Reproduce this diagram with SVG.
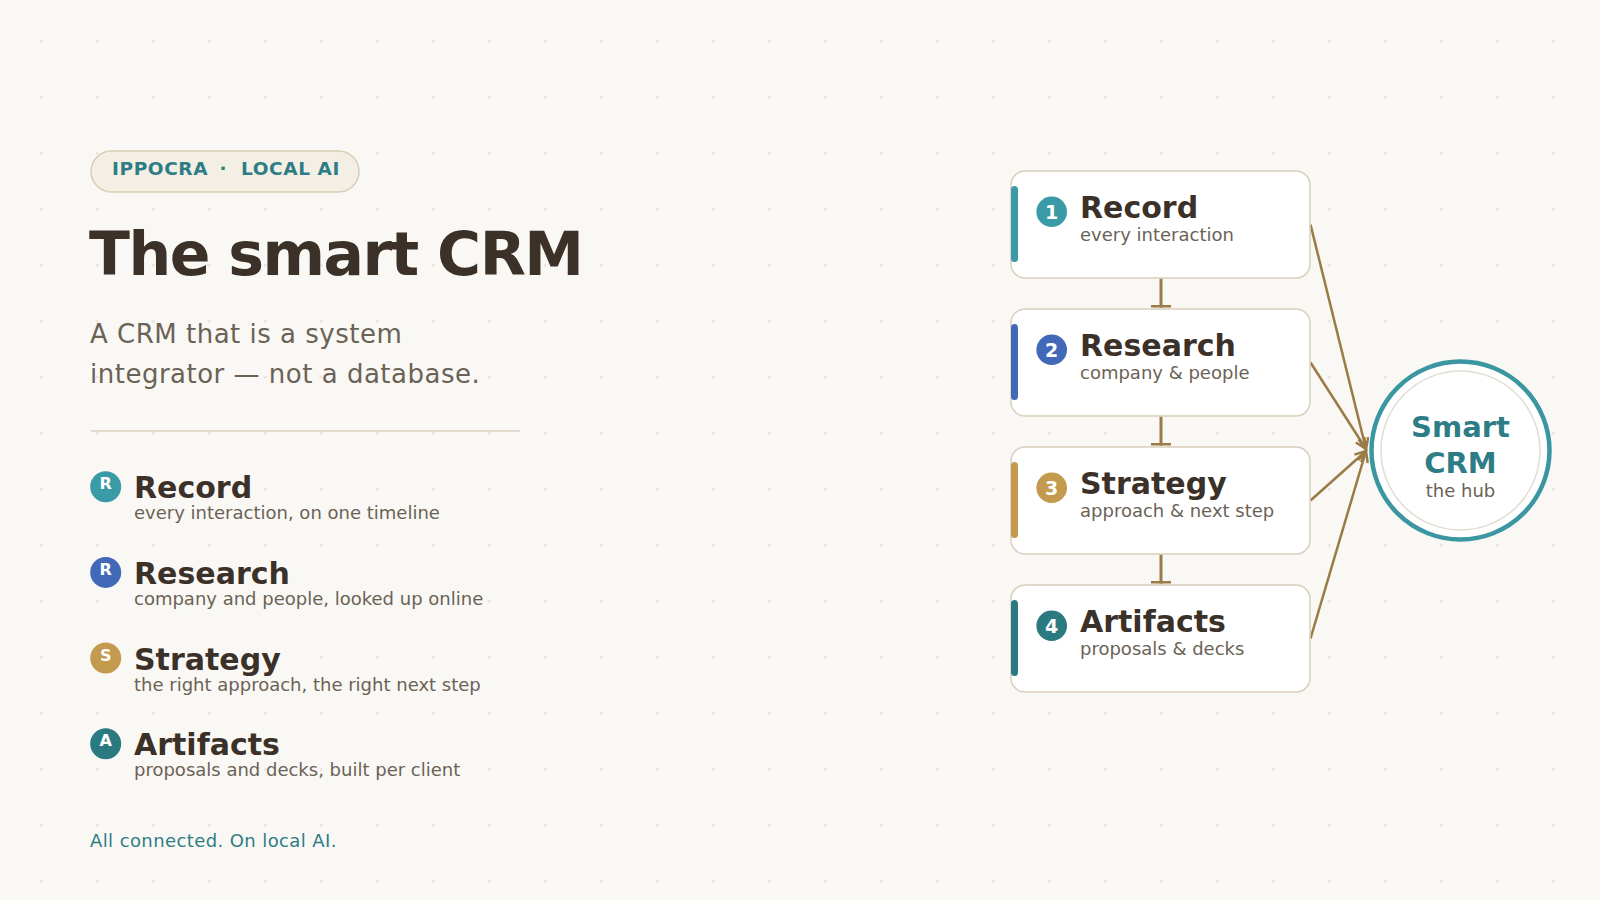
<svg xmlns="http://www.w3.org/2000/svg" width="1600" height="900" viewBox="0 0 1600 900">
  <defs>
    <pattern id="dots" x="13.3" y="13.3" width="56" height="56" patternUnits="userSpaceOnUse">
      <circle cx="28" cy="28" r="1.3" fill="#e4e0d8"/>
    </pattern>
    <marker id="tee" viewBox="0 0 3 20" markerWidth="3" markerHeight="20" refX="3" refY="10" orient="auto" markerUnits="userSpaceOnUse">
      <rect x="0" y="0" width="3" height="20" fill="#9a7a45"/>
    </marker>
    <marker id="arrow" viewBox="0 0 14 12" markerWidth="14" markerHeight="12" refX="12" refY="6" orient="auto" markerUnits="userSpaceOnUse">
      <path d="M1,1 L12,6 L1,11" fill="none" stroke="#9a7a45" stroke-width="2.5" stroke-linejoin="miter"/>
    </marker>
  </defs>
  <style>
    .sans { font-family: "DejaVu Sans", "Liberation Sans", sans-serif; }
    .dark { fill: #3b3128; }
    .muted { fill: #6b6256; }
    .teal { fill: #2e7d86; }
    .h1 { font-size: 60px; font-weight: bold; letter-spacing: -1.5px; }
    .lead { font-size: 26px; letter-spacing: 0.5px; }
    .itemTitle { font-size: 30px; font-weight: bold; }
    .itemSub { font-size: 18px; }
    .badgeLetter { font-size: 16px; font-weight: bold; fill: #ffffff; text-anchor: middle; }
    .numLetter { font-size: 19px; font-weight: bold; fill: #ffffff; text-anchor: middle; }
    .card { fill: #ffffff; stroke: #d9cfbc; stroke-width: 1.5; }
    .flow { stroke: #9a7a45; stroke-width: 3; fill: none; }
    .feed { stroke: #9a7a45; stroke-width: 2.5; fill: none; }
  </style>

  <rect x="0" y="0" width="1600" height="900" fill="#faf8f4"/>
  <rect x="0" y="0" width="1600" height="900" fill="url(#dots)"/>

  <g id="header">
    <rect x="91" y="151" width="268" height="41" rx="20.5" fill="#f3efe4" stroke="#d8cdb5" stroke-width="1.5"/>
    <text class="sans teal" font-size="18.5" font-weight="bold" letter-spacing="0.6" y="175"><tspan x="112">IPPOCRA</tspan><tspan x="219.5">·</tspan><tspan x="241">LOCAL AI</tspan></text>
    <text class="sans dark h1" x="89" y="275">The smart CRM</text>
    <text class="sans muted lead" x="90" y="343">A CRM that is a system</text>
    <text class="sans muted lead" x="90" y="383">integrator — not a database.</text>
    <line x1="91" y1="431" x2="520" y2="431" stroke="#d8d0c0" stroke-width="1.5"/>
  </g>

  <g id="item-record">
    <circle cx="105.7" cy="486.7" r="15.5" fill="#3a9aa5"/>
    <text class="sans badgeLetter" x="105.7" y="489.3">R</text>
    <text class="sans dark itemTitle" x="134" y="498.3">Record</text>
    <text class="sans muted itemSub" x="134" y="519.3">every interaction, on one timeline</text>
  </g>
  <g id="item-research">
    <circle cx="105.7" cy="572.4" r="15.5" fill="#4169b8"/>
    <text class="sans badgeLetter" x="105.7" y="575">R</text>
    <text class="sans dark itemTitle" x="134" y="584">Research</text>
    <text class="sans muted itemSub" x="134" y="605">company and people, looked up online</text>
  </g>
  <g id="item-strategy">
    <circle cx="105.7" cy="658" r="15.5" fill="#c49a4e"/>
    <text class="sans badgeLetter" x="105.7" y="660.6">S</text>
    <text class="sans dark itemTitle" x="134" y="669.6">Strategy</text>
    <text class="sans muted itemSub" x="134" y="690.6">the right approach, the right next step</text>
  </g>
  <g id="item-artifacts">
    <circle cx="105.7" cy="743.7" r="15.5" fill="#2b7a82"/>
    <text class="sans badgeLetter" x="105.7" y="746.3">A</text>
    <text class="sans dark itemTitle" x="134" y="755.3">Artifacts</text>
    <text class="sans muted itemSub" x="134" y="776.3">proposals and decks, built per client</text>
  </g>

  <g id="footer">
    <text class="sans teal" font-size="18" letter-spacing="0.4" x="90" y="847">All connected. On local AI.</text>
  </g>

  <g id="connectors">
    <line class="flow" x1="1161" y1="278.5" x2="1161" y2="307.5" marker-end="url(#tee)"/>
    <line class="flow" x1="1161" y1="416.5" x2="1161" y2="445.5" marker-end="url(#tee)"/>
    <line class="flow" x1="1161" y1="554.5" x2="1161" y2="583.5" marker-end="url(#tee)"/>
    <line class="feed" x1="1310.5" y1="224.5" x2="1366" y2="449" marker-end="url(#arrow)"/>
    <line class="feed" x1="1310.5" y1="362.5" x2="1366" y2="449" marker-end="url(#arrow)"/>
    <line class="feed" x1="1310.5" y1="500.5" x2="1366" y2="451" marker-end="url(#arrow)"/>
    <line class="feed" x1="1310.5" y1="638.5" x2="1366" y2="451" marker-end="url(#arrow)"/>
  </g>

  <g id="step-record">
    <rect class="card" x="1011" y="171" width="299" height="107" rx="14"/>
    <rect x="1011" y="186" width="7" height="76" rx="3.5" fill="#3a9aa5"/>
    <circle cx="1051.7" cy="211.7" r="15.3" fill="#3a9aa5"/>
    <text class="sans numLetter" x="1051.7" y="218.6">1</text>
    <text class="sans dark itemTitle" x="1080" y="218.3">Record</text>
    <text class="sans muted itemSub" x="1080" y="240.7">every interaction</text>
  </g>
  <g id="step-research">
    <rect class="card" x="1011" y="309" width="299" height="107" rx="14"/>
    <rect x="1011" y="324" width="7" height="76" rx="3.5" fill="#4169b8"/>
    <circle cx="1051.7" cy="349.7" r="15.3" fill="#4169b8"/>
    <text class="sans numLetter" x="1051.7" y="356.6">2</text>
    <text class="sans dark itemTitle" x="1080" y="356.3">Research</text>
    <text class="sans muted itemSub" x="1080" y="378.7">company &amp; people</text>
  </g>
  <g id="step-strategy">
    <rect class="card" x="1011" y="447" width="299" height="107" rx="14"/>
    <rect x="1011" y="462" width="7" height="76" rx="3.5" fill="#c49a4e"/>
    <circle cx="1051.7" cy="487.7" r="15.3" fill="#c49a4e"/>
    <text class="sans numLetter" x="1051.7" y="494.6">3</text>
    <text class="sans dark itemTitle" x="1080" y="494.3">Strategy</text>
    <text class="sans muted itemSub" x="1080" y="516.7">approach &amp; next step</text>
  </g>
  <g id="step-artifacts">
    <rect class="card" x="1011" y="585" width="299" height="107" rx="14"/>
    <rect x="1011" y="600" width="7" height="76" rx="3.5" fill="#2b7a82"/>
    <circle cx="1051.7" cy="625.7" r="15.3" fill="#2b7a82"/>
    <text class="sans numLetter" x="1051.7" y="632.6">4</text>
    <text class="sans dark itemTitle" x="1080" y="632.3">Artifacts</text>
    <text class="sans muted itemSub" x="1080" y="654.7">proposals &amp; decks</text>
  </g>

  <g id="hub">
    <circle cx="1460.5" cy="450.5" r="89" fill="#ffffff" stroke="#3a96a0" stroke-width="4.5"/>
    <circle cx="1460.5" cy="450.5" r="79.5" fill="none" stroke="#e2ddd2" stroke-width="1.5"/>
    <text class="sans teal" font-size="29" font-weight="bold" text-anchor="middle" x="1460.5" y="437.3">Smart</text>
    <text class="sans teal" font-size="29" font-weight="bold" text-anchor="middle" x="1460.5" y="473.3">CRM</text>
    <text class="sans muted" font-size="18" text-anchor="middle" x="1460.5" y="496.7">the hub</text>
  </g>
</svg>
